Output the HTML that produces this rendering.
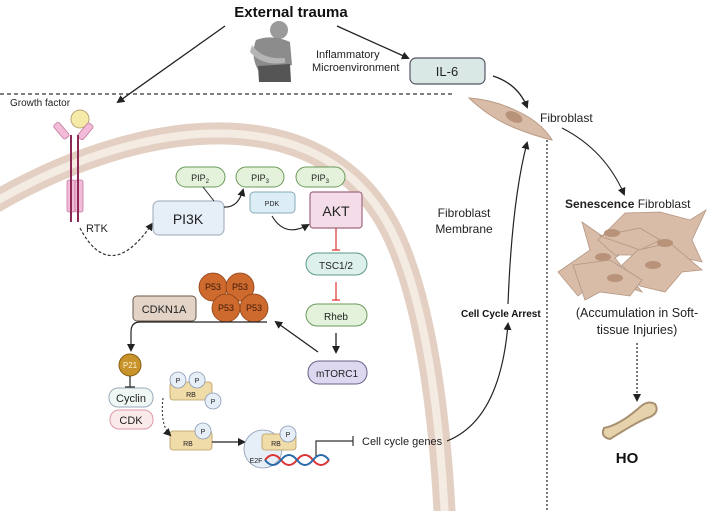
<!DOCTYPE html>
<html><head><meta charset="utf-8"><style>
html,body{margin:0;padding:0;background:#fff;}
svg{display:block;font-family:"Liberation Sans",sans-serif;}
</style></head><body>
<svg width="708" height="511" viewBox="0 0 708 511" xmlns="http://www.w3.org/2000/svg">
<defs>
<marker id="ar" markerWidth="8" markerHeight="8" refX="6" refY="4" orient="auto" markerUnits="userSpaceOnUse"><path d="M0,0 L8,4 L0,8 z" fill="#222"/></marker>
</defs>
<!-- membrane -->
<path d="M-10,205 C150,110 340,95 400,250 C428,320 440,420 445,520" fill="none" stroke="#e3d0c2" stroke-width="22"/>
<path d="M-10,205 C150,110 340,95 400,250 C428,320 440,420 445,520" fill="none" stroke="#f4ebe3" stroke-width="8"/>
<!-- dotted lines -->
<line x1="0" y1="94" x2="455" y2="94" stroke="#333" stroke-width="1.3" stroke-dasharray="4,3"/>
<line x1="547" y1="140" x2="547" y2="511" stroke="#333" stroke-width="1.3" stroke-dasharray="2,2"/>
<!-- top -->
<text x="291" y="17" font-size="15" font-weight="bold" text-anchor="middle" fill="#111">External trauma</text>
<g fill="#9a9a9a">
<circle cx="279" cy="30" r="9"/>
<path d="M256,40 Q272,34 290,42 L292,65 L258,70 Q250,55 256,40z" fill="#8c8c8c"/>
<path d="M258,66 L290,64 L291,82 L259,82z" fill="#555"/>
<path d="M252,45 Q262,60 285,58 L285,63 Q262,66 250,52z" fill="#b5b5b5"/>
</g>
<line x1="225" y1="26" x2="118" y2="102" stroke="#222" stroke-width="1.3" marker-end="url(#ar)"/>
<line x1="337" y1="26" x2="408" y2="58" stroke="#222" stroke-width="1.3" marker-end="url(#ar)"/>
<text x="316" y="58" font-size="11" fill="#222">Inflammatory</text>
<text x="312" y="71" font-size="11" fill="#222">Microenvironment</text>
<rect x="410" y="58" width="75" height="26" rx="6" fill="#d9e8e4" stroke="#556" stroke-width="1.2"/>
<text x="447" y="76" font-size="13" text-anchor="middle" fill="#222">IL-6</text>
<!-- fibroblast -->
<path d="M469,98 Q500,100 530,118 Q545,128 552,140 Q535,136 515,128 Q490,118 469,98z" fill="#d8bca8" stroke="#b99b86"/>
<ellipse cx="514" cy="117" rx="9" ry="5" transform="rotate(25 514 117)" fill="#b8937a"/>
<text x="540" y="122" font-size="12" fill="#222">Fibroblast</text>
<path d="M493,76 Q518,84 527,107" fill="none" stroke="#222" stroke-width="1.3" marker-end="url(#ar)"/>
<path d="M562,128 Q605,150 624,194" fill="none" stroke="#222" stroke-width="1" marker-end="url(#ar)"/>
<text x="565" y="208" font-size="12" fill="#222"><tspan font-weight="bold">Senescence</tspan> Fibroblast</text>
<!-- senescent cluster -->
<g fill="#d8bca8" stroke="#b39682" stroke-width="0.8">
<path d="M558,272 L590,250 L582,222 L605,238 L630,218 L642,238 L615,258 L642,292 L600,278 L578,296 Z"/>
<path d="M598,240 L625,213 L660,212 L690,220 L706,210 L692,240 L702,262 L670,255 L650,282 L640,255 L615,255 Z"/>
<path d="M638,250 L670,243 L702,270 L682,272 L665,292 L640,286 L622,265 Z"/>
<path d="M573,265 L610,260 L642,280 L630,296 L600,292 L585,300 Z"/>
<path d="M600,236 L640,228 L660,240 L640,250 Z"/>
</g>
<g fill="#b8937a"><ellipse cx="612" cy="233" rx="8" ry="4"/><ellipse cx="665" cy="243" rx="8" ry="4"/><ellipse cx="603" cy="257" rx="8" ry="4"/><ellipse cx="653" cy="265" rx="8" ry="4"/><ellipse cx="615" cy="278" rx="8" ry="4"/></g>
<text x="637" y="317" font-size="12.5" text-anchor="middle" fill="#222">(Accumulation in Soft-</text>
<text x="637" y="334" font-size="12.5" text-anchor="middle" fill="#222">tissue Injuries)</text>
<line x1="637" y1="343" x2="637" y2="400" stroke="#222" stroke-width="1.2" stroke-dasharray="2,2" marker-end="url(#ar)"/>
<path d="M604,428 Q600,437 610,439 Q640,420 650,417 Q660,412 655,404 Q648,400 640,407 Q620,425 604,428z" fill="#e6d3ac" stroke="#a89170" stroke-width="2"/>
<text x="627" y="463" font-size="15" font-weight="bold" text-anchor="middle" fill="#111">HO</text>
<!-- cell cycle arrest -->
<text x="461" y="317" font-size="10" font-weight="bold" fill="#111">Cell Cycle Arrest</text>
<path d="M447,441 Q500,420 508,324" fill="none" stroke="#222" stroke-width="1.2" marker-end="url(#ar)"/>
<path d="M508,304 Q512,200 527,143" fill="none" stroke="#222" stroke-width="1.2" marker-end="url(#ar)"/>
<text x="464" y="217" font-size="12" text-anchor="middle" fill="#222">Fibroblast</text>
<text x="464" y="233" font-size="12" text-anchor="middle" fill="#222">Membrane</text>
<!-- RTK -->
<text x="10" y="106" font-size="10" fill="#222">Growth factor</text>
<circle cx="80" cy="119" r="9" fill="#f6eaa8" stroke="#b8a878"/>
<g fill="#f2bcd8" stroke="#c478a0" stroke-width="0.8">
<rect x="58" y="122" width="7" height="18" rx="2" transform="rotate(-40 61 131)"/>
<rect x="82" y="122" width="7" height="18" rx="2" transform="rotate(40 85 131)"/>
<rect x="67" y="180" width="8" height="32" rx="2"/><rect x="75" y="180" width="8" height="32" rx="2"/>
</g>
<line x1="71" y1="135" x2="71" y2="222" stroke="#8c2a55" stroke-width="2"/>
<line x1="78" y1="135" x2="78" y2="222" stroke="#8c2a55" stroke-width="2"/>
<text x="86" y="232" font-size="11" fill="#222">RTK</text>
<path d="M80,228 Q110,285 152,224" fill="none" stroke="#333" stroke-width="1.2" stroke-dasharray="3,2" marker-end="url(#ar)"/>
<!-- PI3K path -->
<rect x="153" y="201" width="71" height="34" rx="6" fill="#e6eef8" stroke="#aab4c4" stroke-width="1.2"/>
<text x="188" y="224" font-size="14" text-anchor="middle" fill="#222">PI3K</text>
<g fill="#e4f2dc" stroke="#6a9a5a" stroke-width="1">
<rect x="176" y="167" width="49" height="20" rx="10"/><rect x="236" y="167" width="48" height="20" rx="10"/><rect x="296" y="167" width="49" height="20" rx="10"/>
</g>
<text x="200" y="181" font-size="9" text-anchor="middle" fill="#222">PIP<tspan font-size="6" dy="2">2</tspan></text>
<text x="260" y="181" font-size="9" text-anchor="middle" fill="#222">PIP<tspan font-size="6" dy="2">3</tspan></text>
<text x="320" y="181" font-size="9" text-anchor="middle" fill="#222">PIP<tspan font-size="6" dy="2">3</tspan></text>
<path d="M203,187 L214,201" stroke="#222" stroke-width="1"/>
<path d="M224,207 Q238,208 243,190" fill="none" stroke="#222" stroke-width="1.2" marker-end="url(#ar)"/>
<rect x="250" y="192" width="45" height="21" rx="4" fill="#dcedf5" stroke="#8ab" stroke-width="1"/>
<text x="272" y="206" font-size="7" text-anchor="middle" fill="#222">PDK</text>
<path d="M272,216 Q285,238 308,225" fill="none" stroke="#222" stroke-width="1.1" marker-end="url(#ar)"/>
<rect x="310" y="192" width="52" height="36" rx="3" fill="#f4dde8" stroke="#a06880" stroke-width="1.2"/>
<text x="336" y="216" font-size="14" text-anchor="middle" fill="#222">AKT</text>
<path d="M336,228 V250 M332,250 H340" stroke="#d33" stroke-width="1.2"/>
<rect x="306" y="253" width="61" height="22" rx="11" fill="#ddf0ec" stroke="#5a9a8a" stroke-width="1"/>
<text x="336" y="269" font-size="10" text-anchor="middle" fill="#222">TSC1/2</text>
<path d="M336,282 V300 M332,300 H340" stroke="#d33" stroke-width="1.2"/>
<rect x="306" y="304" width="61" height="22" rx="11" fill="#e4f2dc" stroke="#6a9a5a" stroke-width="1"/>
<text x="336" y="320" font-size="10" text-anchor="middle" fill="#222">Rheb</text>
<line x1="336" y1="333" x2="336" y2="352" stroke="#222" stroke-width="1.3" marker-end="url(#ar)"/>
<rect x="308" y="361" width="59" height="23" rx="11" fill="#ddd8f0" stroke="#6a6088" stroke-width="1"/>
<text x="337" y="377" font-size="10" text-anchor="middle" fill="#222">mTORC1</text>
<line x1="318" y1="352" x2="276" y2="322" stroke="#222" stroke-width="1.3" marker-end="url(#ar)"/>
<!-- P53 -->
<g fill="#cf6a2e" stroke="#8a4018" stroke-width="0.8">
<circle cx="213" cy="287" r="14"/><circle cx="240" cy="287" r="14"/><circle cx="226" cy="308" r="14"/><circle cx="254" cy="308" r="14"/>
</g>
<g font-size="9" fill="#3a1a08" text-anchor="middle"><text x="213" y="290">P53</text><text x="240" y="290">P53</text><text x="226" y="311">P53</text><text x="254" y="311">P53</text></g>
<rect x="133" y="296" width="63" height="25" rx="4" fill="#e2d3c6" stroke="#6a5a4a" stroke-width="1"/>
<text x="164" y="313" font-size="11" text-anchor="middle" fill="#222">CDKN1A</text>
<path d="M267,322 H140 Q131,322 131,332 V350" fill="none" stroke="#222" stroke-width="1.2" marker-end="url(#ar)"/>
<circle cx="130" cy="365" r="11" fill="#c8932a" stroke="#8a6010"/>
<text x="130" y="368" font-size="8" text-anchor="middle" fill="#fff4d8">P21</text>
<path d="M130,376 V387 M125,387 H135" stroke="#222" stroke-width="1.2"/>
<rect x="109" y="388" width="44" height="19" rx="9" fill="#f0f8f6" stroke="#9ab" stroke-width="1"/>
<text x="131" y="402" font-size="11" text-anchor="middle" fill="#222">Cyclin</text>
<rect x="110" y="410" width="43" height="19" rx="9" fill="#fbeaea" stroke="#d9a" stroke-width="1"/>
<text x="131" y="424" font-size="11" text-anchor="middle" fill="#222">CDK</text>
<!-- RB -->
<g fill="#f0dca8" stroke="#b89a60" stroke-width="0.8">
<rect x="170" y="382" width="42" height="18" rx="3"/><rect x="170" y="431" width="42" height="19" rx="3"/>
</g>
<g fill="#e6eef8" stroke="#8a9ab4" stroke-width="0.8">
<circle cx="178" cy="380" r="8"/><circle cx="197" cy="380" r="8"/><circle cx="213" cy="401" r="8"/><circle cx="203" cy="431" r="8"/>
</g>
<g font-size="7" text-anchor="middle" fill="#222"><text x="191" y="397">RB</text><text x="188" y="446">RB</text><text x="178" y="383">P</text><text x="197" y="383">P</text><text x="213" y="404">P</text><text x="203" y="434">P</text></g>
<path d="M163,398 Q160,425 170,435" fill="none" stroke="#333" stroke-width="1.1" stroke-dasharray="2,2" marker-end="url(#ar)"/>
<line x1="212" y1="442" x2="244" y2="442" stroke="#222" stroke-width="1.2" marker-end="url(#ar)"/>
<circle cx="263" cy="449" r="19" fill="#e6eef8" stroke="#8a9ab4" stroke-width="0.8"/>
<rect x="262" y="434" width="34" height="16" rx="3" fill="#f0dca8" stroke="#b89a60" stroke-width="0.8"/>
<circle cx="288" cy="434" r="8" fill="#e6eef8" stroke="#8a9ab4" stroke-width="0.8"/>
<g font-size="7" text-anchor="middle" fill="#222"><text x="276" y="446">RB</text><text x="288" y="437">P</text><text x="256" y="463">E2F</text></g>
<path d="M265,460 Q273,450 281,460 T297,460 T313,460 T329,460" fill="none" stroke="#d33" stroke-width="2"/>
<path d="M265,460 Q273,470 281,460 T297,460 T313,460 T329,460" fill="none" stroke="#2a6aa8" stroke-width="2"/>
<path d="M316,456 V441 H353 M353,436 V446" fill="none" stroke="#333" stroke-width="1.2"/>
<text x="362" y="445" font-size="11" fill="#222">Cell cycle genes</text>
</svg>
</body></html>
